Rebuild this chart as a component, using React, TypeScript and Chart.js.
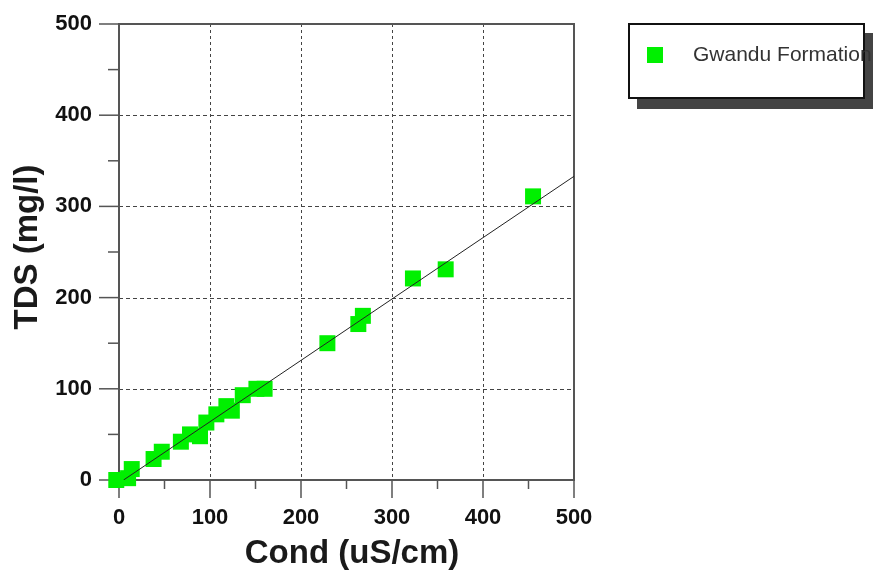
import React, { useEffect, useRef } from "react";
import { Chart, registerables } from "chart.js";

Chart.register(...registerables);

const condValues = [-3, 10, 14, 38, 47, 68, 78, 89, 96, 107, 118, 124, 136, 151, 160, 229, 263, 268, 323, 359, 455];
const tdsValues = [0, 2, 12, 23, 31, 42, 50, 48, 63, 72, 81, 76, 93, 100, 100, 150, 171, 180, 221, 231, 311];
const fitCond = [5, 500];
const fitTds = [0, 333];
const majorTicks = [0, 100, 200, 300, 400, 500];
const minorTicks = [50, 150, 250, 350, 450];
const gridTicks = [100, 200, 300, 400];
const seriesName = "Gwandu Formation";
const xTitle = "Cond (uS/cm)";
const yTitle = "TDS (mg/l)";

const FONT = "'Liberation Sans', Arial, sans-serif";
const GREEN = "#00f000";

const framePlugin = {
  id: "framePlugin",
  beforeDatasetsDraw(chart: any) {
    const ctx = chart.ctx;
    const xs = chart.scales.x;
    const ys = chart.scales.y;
    const { left, right, top, bottom } = chart.chartArea;
    ctx.save();
    // dotted grid
    ctx.strokeStyle = "#444";
    ctx.lineWidth = 1;
    ctx.setLineDash([3, 3]);
    gridTicks.forEach((v) => {
      const px = Math.round(xs.getPixelForValue(v)) + 0.5;
      ctx.beginPath();
      ctx.moveTo(px, top);
      ctx.lineTo(px, bottom);
      ctx.stroke();
    });
    ctx.setLineDash([4, 3]);
    gridTicks.forEach((v) => {
      const py = Math.round(ys.getPixelForValue(v)) + 0.5;
      ctx.beginPath();
      ctx.moveTo(left, py);
      ctx.lineTo(right, py);
      ctx.stroke();
    });
    ctx.setLineDash([]);
    // frame
    ctx.strokeStyle = "#555";
    ctx.lineWidth = 2;
    ctx.strokeRect(left, top, right - left, bottom - top);
    // ticks
    ctx.lineWidth = 1.5;
    majorTicks.forEach((v) => {
      const px = xs.getPixelForValue(v);
      ctx.beginPath();
      ctx.moveTo(px, bottom);
      ctx.lineTo(px, bottom + 18);
      ctx.stroke();
      const py = ys.getPixelForValue(v);
      ctx.beginPath();
      ctx.moveTo(left, py);
      ctx.lineTo(left - 20, py);
      ctx.stroke();
    });
    minorTicks.forEach((v) => {
      const px = xs.getPixelForValue(v);
      ctx.beginPath();
      ctx.moveTo(px, bottom);
      ctx.lineTo(px, bottom + 9);
      ctx.stroke();
      const py = ys.getPixelForValue(v);
      ctx.beginPath();
      ctx.moveTo(left, py);
      ctx.lineTo(left - 11, py);
      ctx.stroke();
    });
    ctx.restore();
  },
  afterDraw(chart: any) {
    const ctx = chart.ctx;
    ctx.save();
    // axis titles
    ctx.fillStyle = "#1a1a1a";
    ctx.font = `bold 33px ${FONT}`;
    ctx.textAlign = "center";
    ctx.textBaseline = "middle";
    ctx.fillText(xTitle, 352, 554);
    ctx.save();
    ctx.translate(28, 247);
    ctx.rotate(-Math.PI / 2);
    ctx.fillText(yTitle, 0, 0);
    ctx.restore();
    // legend box
    ctx.fillStyle = "#444";
    ctx.fillRect(637, 33, 236, 76);
    ctx.fillStyle = "#fff";
    ctx.fillRect(628, 23, 237, 76);
    ctx.strokeStyle = "#111";
    ctx.lineWidth = 2;
    ctx.strokeRect(629, 24, 235, 74);
    ctx.fillStyle = GREEN;
    ctx.fillRect(647, 47, 16, 16);
    ctx.fillStyle = "#333";
    ctx.font = `21px ${FONT}`;
    ctx.textAlign = "left";
    ctx.textBaseline = "middle";
    ctx.fillText(seriesName, 693, 55);
    ctx.restore();
  },
};

export default function App() {
  const canvasRef = useRef<HTMLCanvasElement | null>(null);
  useEffect(() => {
    const canvas = canvasRef.current;
    if (!canvas) return;
    const chart = new Chart(canvas, {
      type: "scatter",
      data: {
        datasets: [
          {
            type: "line",
            label: "fit",
            data: fitCond.map((x, i) => ({ x, y: fitTds[i] })),
            borderColor: "#222",
            borderWidth: 1,
            pointRadius: 0,
            fill: false,
            order: 0,
          } as any,
          {
            label: seriesName,
            data: condValues.map((x, i) => ({ x, y: tdsValues[i] })),
            pointStyle: "rect",
            pointRadius: 11.3,
            pointHoverRadius: 11.3,
            backgroundColor: GREEN,
            borderColor: GREEN,
            borderWidth: 0,
            clip: false,
            order: 1,
          } as any,
        ],
      },
      options: {
        responsive: false,
        animation: false,
        events: [],
        layout: { padding: { left: 0, right: 305, top: 24, bottom: 0 } },
        plugins: { legend: { display: false }, tooltip: { enabled: false } },
        scales: {
          x: {
            type: "linear",
            min: 0,
            max: 500,
            afterFit: (s: any) => {
              s.height = 92;
              s.paddingLeft = 0;
              s.paddingRight = 0;
            },
            afterBuildTicks: (s: any) => {
              s.ticks = majorTicks.map((v) => ({ value: v }));
            },
            grid: { display: false, drawTicks: false },
            border: { display: false },
            ticks: {
              padding: 25,
              color: "#111",
              font: { family: FONT, size: 22, weight: "bold" },
              maxRotation: 0,
            },
          },
          y: {
            type: "linear",
            min: 0,
            max: 500,
            afterFit: (s: any) => {
              s.width = 119;
              s.paddingTop = 0;
              s.paddingBottom = 0;
            },
            afterBuildTicks: (s: any) => {
              s.ticks = majorTicks.map((v) => ({ value: v }));
            },
            grid: { display: false, drawTicks: false },
            border: { display: false },
            ticks: {
              padding: 27,
              color: "#111",
              font: { family: FONT, size: 22, weight: "bold" },
            },
          },
        },
      },
      plugins: [framePlugin],
    });
    return () => chart.destroy();
  }, []);
  return (
    <div style={{ position: "absolute", left: 0, top: 0, width: 879, height: 572, background: "#fff" }}>
      <canvas ref={canvasRef} width={879} height={572} style={{ display: "block", width: 879, height: 572 }} />
    </div>
  );
}
